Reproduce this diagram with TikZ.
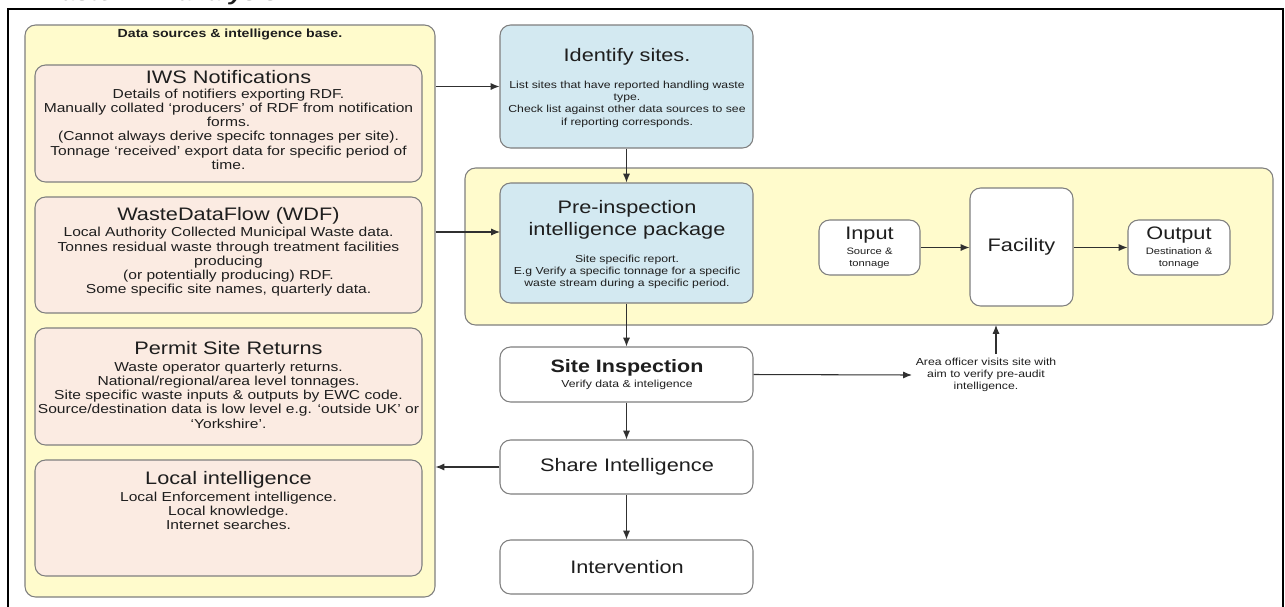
\documentclass[tikz,border=0pt]{standalone}
\usepackage{fontspec}
\setmainfont{Liberation Sans}[FakeStretch=1.2]
\usetikzlibrary{fit,arrows.meta}
\definecolor{yel}{HTML}{FFFBCC}
\definecolor{pinkfill}{HTML}{FBEBE2}
\definecolor{blufill}{HTML}{D3E9F1}
\definecolor{edge}{HTML}{7F7F7F}
\definecolor{ink}{HTML}{1E1E1E}
\definecolor{arrowc}{HTML}{303030}
\begin{document}
\begin{tikzpicture}[x=0.02cm,y=-0.02cm,
  frame/.style={draw=black,line width=1.2pt},
  container/.style={draw=edge,fill=yel,rounded corners=6pt,line width=0.6pt,inner sep=0pt},
  pinkbox/.style={draw=edge,fill=pinkfill,rounded corners=6pt,line width=0.6pt,inner sep=0pt},
  bluebox/.style={draw=edge,fill=blufill,rounded corners=6pt,line width=0.6pt,inner sep=0pt},
  whitebox/.style={draw=edge,fill=white,rounded corners=6pt,line width=0.6pt,inner sep=0pt},
  txt/.style={text=ink,align=center,inner sep=0pt},
  head/.style={txt,font=\fontsize{10.3}{12.3}\selectfont},
  body/.style={txt,font=\fontsize{7.4}{8.1}\selectfont},
  small/.style={txt,font=\fontsize{5.8}{7.0}\selectfont},
  tiny/.style={txt,font=\fontsize{5.3}{6.8}\selectfont},
  arr/.style={draw=arrowc,line width=0.6pt,-{Latex[length=5pt,width=4pt]}}
]
\useasboundingbox (0,0) rectangle (1285,606);
\fill[white] (0,0) rectangle (1285,606);
% clipped title
\node[txt,font=\fontsize{12}{14}\selectfont\bfseries\itshape,anchor=base west] (title) at (38,0.5) {Waste RDF analysis};
% outer frame
\draw[frame] (8,700) -- (8,9) -- (1283,9) -- (1283,700);

% containers
\node[container,fit={(25,25) (435,597)}] (left) {};
\node[container,fit={(465,168) (1273,325)}] (right) {};
\node[txt,font=\fontsize{6.7}{8}\selectfont\bfseries] (lefttitle) at (230,34) {Data sources \& intelligence base.};

% pink boxes
\node[pinkbox,fit={(35,65) (422,182)}] (iws) {};
\node[head] (iwsh) at (228.5,77) {IWS Notifications};
\node[body] (iwsb) at (228.5,129) {Details of notifiers exporting RDF.\\Manually collated ‘producers’ of RDF from notification\\forms.\\(Cannot always derive specifc tonnages per site).\\Tonnage ‘received’ export data for specific period of\\time.};

\node[pinkbox,fit={(35,197) (422,313)}] (wdf) {};
\node[head] (wdfh) at (228.5,216) {WasteDataFlow (WDF)};
\node[body] (wdfb) at (228.5,262) {Local Authority Collected Municipal Waste data.\\Tonnes residual waste through treatment facilities\\producing\\(or potentially producing) RDF.\\Some specific site names, quarterly data.};

\node[pinkbox,fit={(35,328) (422,445)}] (psr) {};
\node[head] (psrh) at (228.5,348) {Permit Site Returns};
\node[body] (psrb) at (228.5,395) {Waste operator quarterly returns.\\National/regional/area level tonnages.\\Site specific waste inputs \& outputs by EWC code.\\Source/destination data is low level e.g. ‘outside UK’ or\\‘Yorkshire’.};

\node[pinkbox,fit={(35,460) (422,576)}] (loc) {};
\node[head] (loch) at (228.5,480) {Local intelligence};
\node[body] (locb) at (228.5,511) {Local Enforcement intelligence.\\Local knowledge.\\Internet searches.};

% blue boxes
\node[bluebox,fit={(500,25) (753,148)}] (ident) {};
\node[head] (identh) at (627,57) {Identify sites.};
\node[small] (identb) at (627,104) {List sites that have reported handling waste\\type.\\Check list against other data sources to see\\if reporting corresponds.};

\node[bluebox,fit={(500,183) (753,303)}] (pre) {};
\node[head] (preh) at (627,220) {Pre-inspection\\intelligence package};
\node[small] (preb) at (627,272) {Site specific report.\\E.g Verify a specific tonnage for a specific\\waste stream during a specific period.};

% input / facility / output
\node[whitebox,fit={(819,220) (920,275)}] (inp) {};
\node[head] (inph) at (869.5,235) {Input};
\node[tiny] (inpb) at (869.5,258) {Source \&\\tonnage};
\node[whitebox,fit={(970,188) (1073,306)}] (fac) {};
\node[head] (fach) at (1021.5,247) {Facility};
\node[whitebox,fit={(1128,220) (1230,275)}] (outp) {};
\node[head] (outph) at (1179,235) {Output};
\node[tiny] (outpb) at (1179,258) {Destination \&\\tonnage};

% lower flow
\node[whitebox,fit={(500,347) (753,402)}] (site) {};
\node[head,font=\fontsize{10.2}{12}\selectfont\bfseries] (siteh) at (627,368) {Site Inspection};
\node[small] (siteb) at (627,385) {Verify data \& inteligence};
\node[whitebox,fit={(500,440) (753,494)}] (share) {};
\node[head] (shareh) at (627,467) {Share Intelligence};
\node[whitebox,fit={(500,540) (753,594)}] (interv) {};
\node[head] (intervh) at (627,567) {Intervention};

% note
\node[small,inner sep=2pt] (note) at (986,375) {Area officer visits site with\\aim to verify pre-audit\\intelligence.};

% connectors
\coordinate (preentry) at (500,232);
\coordinate (up) at (996,325);
\draw[arr] (ident.west -| left.east) -- (ident.west);
\draw[arr] (preentry -| left.east) -- (preentry);
\draw[arr] (ident.south) -- (pre.north);
\draw[arr] (pre.south) -- (site.north);
\draw[arr] (site.south) -- (share.north);
\draw[arr] (share.south) -- (interv.north);
\draw[arr] (share.west) -- (share.west -| left.east);
\draw[arr] (site.east) -- (note.west);
\draw[arr] (note.north -| up) -- (up);
\draw[arr] (inp.east) -- (inp.east -| fac.west);
\draw[arr] (inp.east -| fac.east) -- (outp.west);
\end{tikzpicture}
\end{document}
